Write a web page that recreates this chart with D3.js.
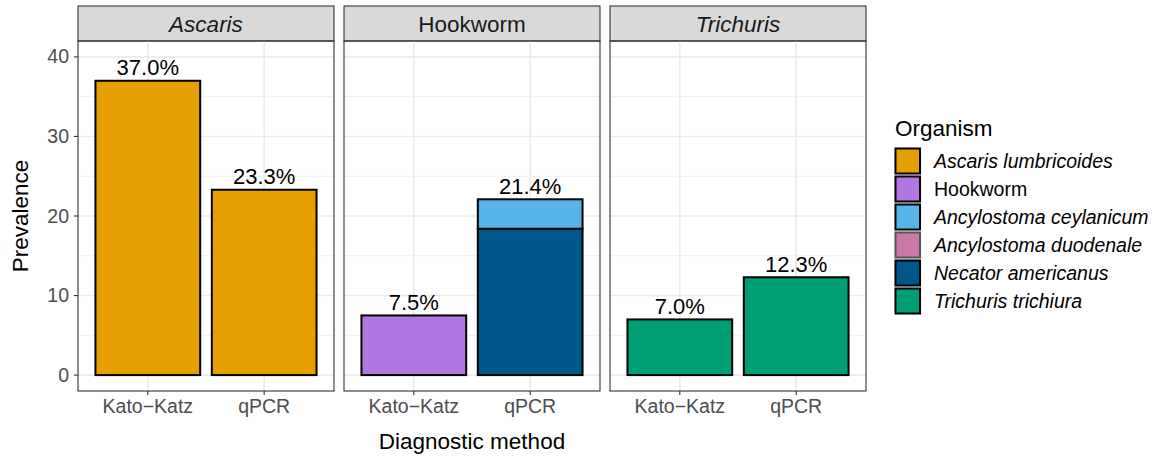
<!DOCTYPE html>
<html>
<head>
    <title></title>
    <meta charset="utf-8" />
    <style>
        body { margin: 0; background: #fff; }
        svg { font-family: "Liberation Sans", Arial, sans-serif; }
    </style>
    <script src="https://d3js.org/d3.v7.min.js"></script>
</head>
<body>
<svg id="main-graph"></svg>
<script>

// facets and x categories
let facets = ["Ascaris", "Hookworm", "Trichuris"];
let facetItalic = [true, false, true];
let methods = ["Kato\u2212Katz", "qPCR"];

// legend
let organisms = ["Ascaris lumbricoides", "Hookworm", "Ancylostoma ceylanicum",
                 "Ancylostoma duodenale", "Necator americanus", "Trichuris trichiura"];
let organismItalic = [true, false, true, true, true, true];
let organismColors = ["#E69F00", "#B276E3", "#56B4E9", "#CC79A7", "#00578A", "#009E73"];

// bar segments (stacked in listed order)
let segFacet    = ["Ascaris", "Ascaris", "Hookworm", "Hookworm", "Hookworm", "Trichuris", "Trichuris"];
let segMethod   = ["Kato\u2212Katz", "qPCR", "Kato\u2212Katz", "qPCR", "qPCR", "Kato\u2212Katz", "qPCR"];
let segOrganism = ["Ascaris lumbricoides", "Ascaris lumbricoides", "Hookworm",
                   "Necator americanus", "Ancylostoma ceylanicum",
                   "Trichuris trichiura", "Trichuris trichiura"];
let segValue    = [37.0, 23.3, 7.5, 18.4, 3.7, 7.0, 12.3];

// percentage labels
let labFacet  = ["Ascaris", "Ascaris", "Hookworm", "Hookworm", "Trichuris", "Trichuris"];
let labMethod = ["Kato\u2212Katz", "qPCR", "Kato\u2212Katz", "qPCR", "Kato\u2212Katz", "qPCR"];
let labText   = ["37.0%", "23.3%", "7.5%", "21.4%", "7.0%", "12.3%"];

let yTicks = [0, 10, 20, 30, 40];
let yMinor = [5, 15, 25, 35];

/* layout */
let realW = 1158, realH = 458;
let panelTop = 41, panelBottom = 391, stripTop = 6;

let svg = d3.select("#main-graph").attr("width", realW).attr("height", realH);

let fx = d3.scaleBand().domain(facets).range([78, 866]).paddingInner(10 / 266);
let x = d3.scalePoint().domain(methods).range([0, fx.bandwidth()]).padding(0.6);
let barW = x.step() * 0.9;
let y = d3.scaleLinear().domain([-2.0, 42.0]).range([panelBottom, panelTop]);
let color = d3.scaleOrdinal().domain(organisms).range(organismColors);

// stack the segments
let segs = [];
let acc = {};
segValue.forEach((v, i) => {
    let k = segFacet[i] + "|" + segMethod[i];
    let y0 = acc[k] || 0;
    acc[k] = y0 + v;
    segs.push({facet: segFacet[i], method: segMethod[i], org: segOrganism[i], y0: y0, y1: y0 + v});
});

facets.forEach((f, fi) => {
    let g = svg.append("g").attr("transform", "translate(" + fx(f) + ",0)");
    let w = fx.bandwidth();

    // strip
    g.append("rect").attr("x", 0).attr("y", stripTop).attr("width", w).attr("height", panelTop - stripTop)
        .attr("fill", "#D9D9D9").attr("stroke", "#333").attr("stroke-width", 1.1);
    g.append("text").attr("x", w / 2).attr("y", 32)
        .attr("text-anchor", "middle").attr("font-size", 22.5).attr("fill", "#1A1A1A")
        .attr("font-style", facetItalic[fi] ? "italic" : "normal").text(f);

    // grid
    g.selectAll(".minor").data(yMinor).enter().append("line")
        .attr("x1", 0).attr("x2", w).attr("y1", d => y(d)).attr("y2", d => y(d))
        .attr("stroke", "#EBEBEB").attr("stroke-width", 0.8);
    g.selectAll(".major").data(yTicks).enter().append("line")
        .attr("x1", 0).attr("x2", w).attr("y1", d => y(d)).attr("y2", d => y(d))
        .attr("stroke", "#EBEBEB").attr("stroke-width", 1.6);
    g.selectAll(".vmajor").data(methods).enter().append("line")
        .attr("x1", d => x(d)).attr("x2", d => x(d)).attr("y1", panelTop).attr("y2", panelBottom)
        .attr("stroke", "#EBEBEB").attr("stroke-width", 1.6);

    // bars
    g.selectAll(".bar").data(segs.filter(s => s.facet === f)).enter().append("rect")
        .attr("x", d => x(d.method) - barW / 2).attr("width", barW)
        .attr("y", d => y(d.y1)).attr("height", d => y(d.y0) - y(d.y1))
        .attr("fill", d => color(d.org)).attr("stroke", "#000").attr("stroke-width", 2);

    // labels
    labText.forEach((t, i) => {
        if (labFacet[i] !== f) return;
        let top = acc[f + "|" + labMethod[i]];
        g.append("text").attr("x", x(labMethod[i])).attr("y", y(top) - 5.5)
            .attr("text-anchor", "middle").attr("font-size", 22).attr("fill", "#000").text(t);
    });

    // border
    g.append("rect").attr("x", 0).attr("y", panelTop).attr("width", w).attr("height", panelBottom - panelTop)
        .attr("fill", "none").attr("stroke", "#333").attr("stroke-width", 1.1);

    // x axis ticks
    let xa = g.append("g").attr("transform", "translate(0," + panelBottom + ")");
    methods.forEach(m => {
        xa.append("line").attr("x1", x(m)).attr("x2", x(m)).attr("y1", 0).attr("y2", 4)
            .attr("stroke", "#333").attr("stroke-width", 1.1);
        xa.append("text").attr("x", x(m)).attr("y", 22).attr("text-anchor", "middle")
            .attr("font-size", 19.5).attr("fill", "#4D4D4D").text(m);
    });

    // y axis only on first panel
    if (fi === 0) {
        yTicks.forEach(t => {
            g.append("line").attr("x1", -4).attr("x2", 0).attr("y1", y(t)).attr("y2", y(t))
                .attr("stroke", "#333").attr("stroke-width", 1.1);
            g.append("text").attr("x", -9).attr("y", y(t) + 6.5).attr("text-anchor", "end")
                .attr("font-size", 19.5).attr("fill", "#4D4D4D").text(t);
        });
    }
});

// axis titles
svg.append("text").attr("x", (78 + 866) / 2).attr("y", 449).attr("text-anchor", "middle")
    .attr("font-size", 22.5).attr("fill", "#000").text("Diagnostic method");
svg.append("text").attr("transform", "translate(28," + (panelTop + panelBottom) / 2 + ") rotate(-90)")
    .attr("text-anchor", "middle").attr("font-size", 22.5).attr("fill", "#000").text("Prevalence");

// legend
let lg = svg.append("g").attr("transform", "translate(894,0)");
lg.append("text").attr("x", 1).attr("y", 136).attr("font-size", 22.5).attr("fill", "#000").text("Organism");
let keyH = 28;
organisms.forEach((o, i) => {
    let ky = 147 + i * keyH;
    lg.append("rect").attr("x", 0).attr("y", ky).attr("width", 27.5).attr("height", keyH)
        .attr("fill", "#F2F2F2");
    lg.append("rect").attr("x", 1.5).attr("y", ky + 1.5).attr("width", 24.5).attr("height", keyH - 3)
        .attr("fill", organismColors[i])
        .attr("stroke", o === "Ancylostoma duodenale" ? "#555" : "#000").attr("stroke-width", 2);
    lg.append("text").attr("x", 40).attr("y", ky + keyH / 2 + 7).attr("font-size", 19.5)
        .attr("font-style", organismItalic[i] ? "italic" : "normal").attr("fill", "#000").text(o);
});

</script>
</body>
</html>
